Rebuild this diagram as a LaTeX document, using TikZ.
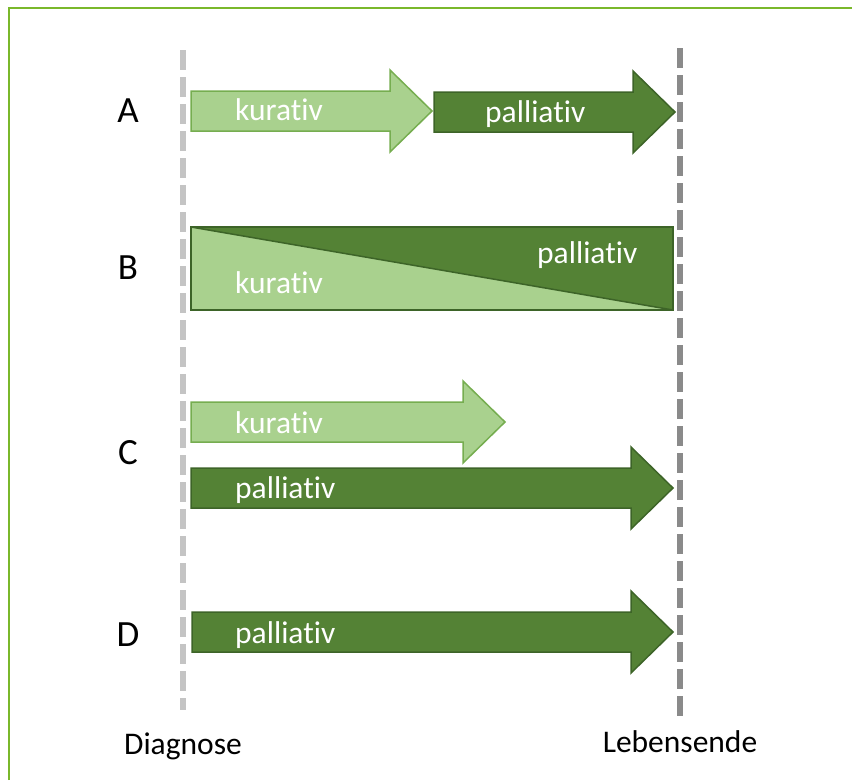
\documentclass[tikz,border=0pt]{standalone}
\usepackage{fontspec}
\setmainfont{Carlito}[Ligatures=NoCommon]
\usepackage{tikz}
\definecolor{hellgruen}{HTML}{A9D18E}
\definecolor{hellrand}{HTML}{76AD50}
\definecolor{dunkelgruen}{HTML}{548235}
\definecolor{dunkelrand}{HTML}{3D6428}
\definecolor{rahmen}{HTML}{7AB82B}
\definecolor{grauhell}{HTML}{C4C4C4}
\definecolor{graudunkel}{HTML}{8A8A8A}

\begin{document}
\begin{tikzpicture}[x=1pt, y=-1pt,
  hell/.style={fill=hellgruen, draw=hellrand, line width=1.5pt},
  dunkel/.style={fill=dunkelgruen, draw=dunkelrand, line width=1.5pt},
  innen/.style={anchor=base west, text=white, inner sep=0pt, font=\fontsize{31.5}{36}\selectfont},
  zeile/.style={font=\fontsize{37}{42}\selectfont},
  achse/.style={anchor=base, inner sep=0pt, font=\fontsize{31.5}{36}\selectfont},
  linie/.style={line width=6pt, dash pattern=on 20pt off 7pt}]

  \newcommand\Kopflang{42};  % Kopflaenge
  \newcommand\Balkhalb{20};  % halbe Balkenhoehe
  \newcommand\Kopfhalb{41};  % halbe Kopfhoehe
  % #1 Stil, #2 x Anfang, #3 x Spitze, #4 y Mitte
  \newcommand\Pfeil[4]{\draw[#1] (#2, #4-\Balkhalb) -- (#3-\Kopflang, #4-\Balkhalb)
    -- (#3-\Kopflang, #4-\Kopfhalb) -- (#3, #4) -- (#3-\Kopflang, #4+\Kopfhalb)
    -- (#3-\Kopflang, #4+\Balkhalb) -- (#2, #4+\Balkhalb) -- cycle;}

  \useasboundingbox (0,0) rectangle (852,780);
  \draw[rahmen, line width=2pt] (9,780) -- (9,8) -- (852,8);

  \coordinate (diag oben) at (183,50);
  \coordinate (diag unten) at (183,710);
  \coordinate (ende oben) at (680,48);
  \coordinate (ende unten) at (680,717);
  \draw[linie, grauhell] (diag oben) -- (diag unten);
  \draw[linie, graudunkel] (ende oben) -- (ende unten);

  \node[achse] (diagnose) at (183,754) {Diagnose};
  \node[achse] (lebensende) at (680,752) {Lebensende};

  \node[zeile] (A) at (128,111) {A};
  \node[zeile] (B) at (128,268) {B};
  \node[zeile] (C) at (128,453) {C};
  \node[zeile] (D) at (128,635) {D};

  %% A
  \Pfeil{hell}{191}{432}{111}
  \Pfeil{dunkel}{434}{675}{112}
  \node[innen] (A kurativ) at (235,120) {kurativ};
  \node[innen] (A palliativ) at (485,122) {palliativ};

  %% B
  \fill[hellgruen] (191,227) -- (673,310) -- (191,310) -- cycle;
  \fill[dunkelgruen] (191,227) -- (673,227) -- (673,310) -- cycle;
  \draw[dunkelrand, line width=1.5pt] (191,227) rectangle (673,310);
  \draw[dunkelrand, line width=1.5pt] (191,227) -- (673,310);
  \node[innen] (B palliativ) at (537,263) {palliativ};
  \node[innen] (B kurativ) at (235,293) {kurativ};

  %% C
  \Pfeil{hell}{191}{505}{422}
  \Pfeil{dunkel}{191}{673}{488}
  \node[innen] (C kurativ) at (235,433) {kurativ};
  \node[innen] (C palliativ) at (235,498) {palliativ};

  %% D
  \Pfeil{dunkel}{192}{673}{632}
  \node[innen] (D palliativ) at (235,643) {palliativ};
\end{tikzpicture}
\end{document}
